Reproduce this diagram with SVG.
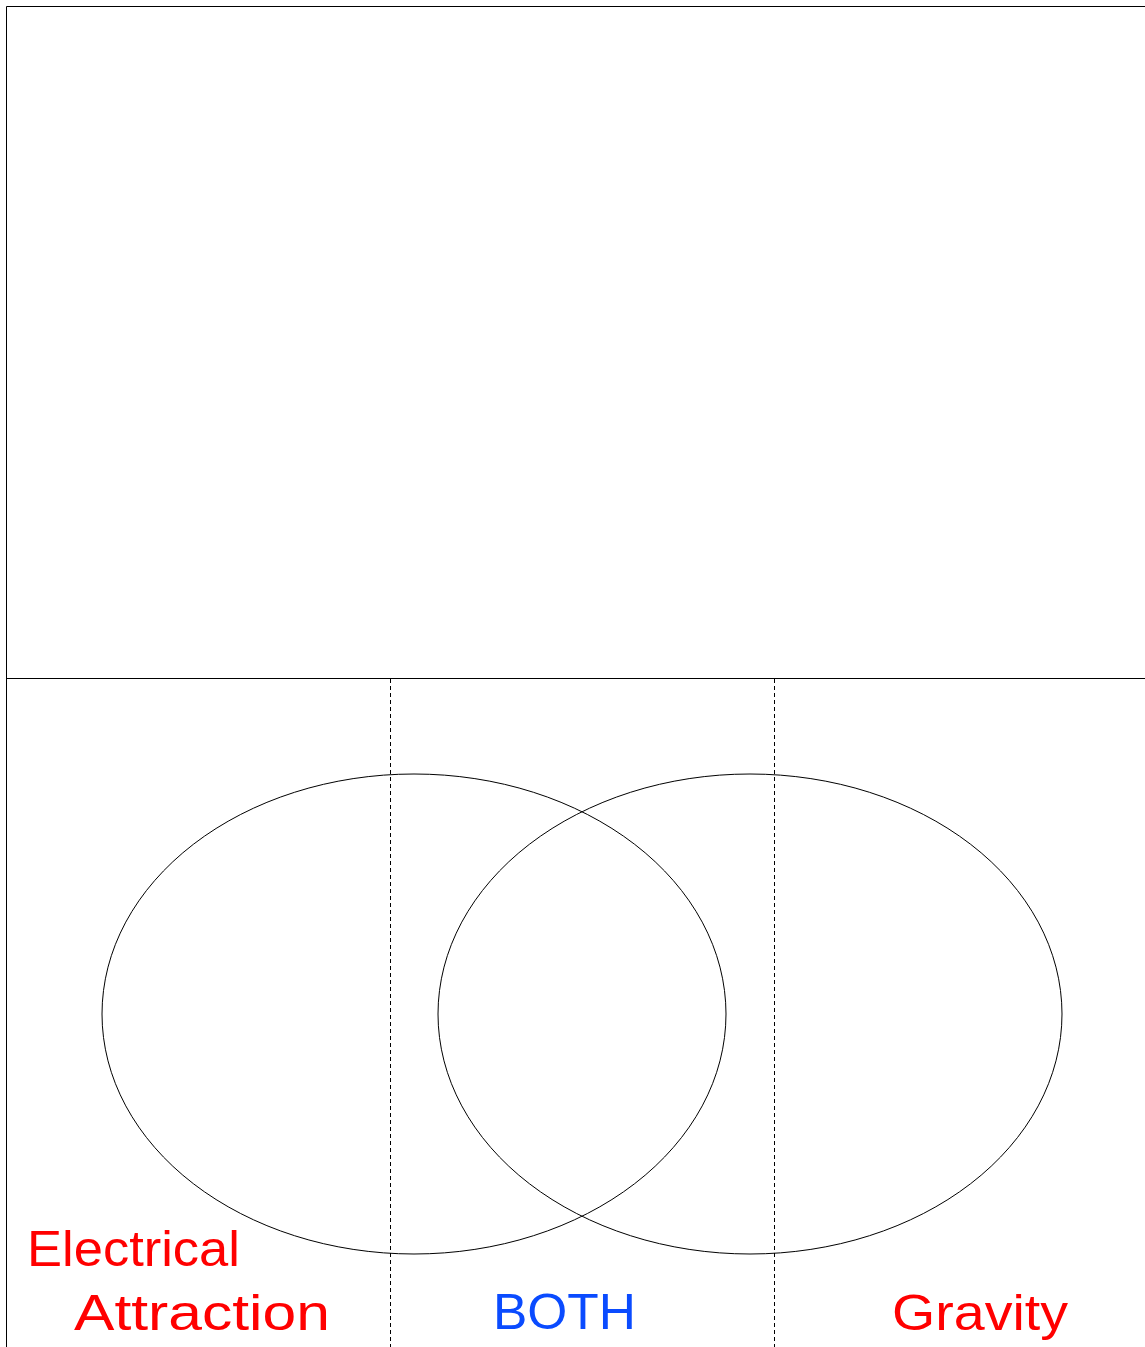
<svg xmlns="http://www.w3.org/2000/svg" width="1145" height="1347" viewBox="0 0 1145 1347">
<style>
.ln{stroke:#000;stroke-width:1;fill:none}
.dash{stroke:#000;stroke-width:1;stroke-dasharray:4 3;fill:none}
.lbl{font-family:"Comic Sans MS","Liberation Sans",sans-serif;font-size:50px}
.red{fill:#FF0000}
.blue{fill:#0A4BFF}
</style>
<rect width="1145" height="1347" fill="#fff"/>
<g id="frame">
<line class="ln" x1="6.5" y1="6.5" x2="1145" y2="6.5"/>
<line class="ln" x1="6.5" y1="6.5" x2="6.5" y2="1347"/>
<line class="ln" x1="6.5" y1="678.5" x2="1145" y2="678.5"/>
</g>
<g id="dividers">
<line class="dash" x1="390.5" y1="679" x2="390.5" y2="1347"/>
<line class="dash" x1="774.5" y1="679" x2="774.5" y2="1347"/>
</g>
<g id="left-set">
<ellipse class="ln" cx="414" cy="1014" rx="312" ry="240"/>
</g>
<g id="right-set">
<ellipse class="ln" cx="750" cy="1014" rx="312" ry="240"/>
</g>
<g id="labels">
<text class="lbl red" x="27" y="1266" textLength="213" lengthAdjust="spacingAndGlyphs">Electrical</text>
<text class="lbl red" x="74" y="1330" textLength="256" lengthAdjust="spacingAndGlyphs">Attraction</text>
<text class="lbl blue" x="493" y="1329" textLength="143" lengthAdjust="spacingAndGlyphs">BOTH</text>
<text class="lbl red" x="892" y="1330" textLength="176" lengthAdjust="spacingAndGlyphs">Gravity</text>
</g>
</svg>
